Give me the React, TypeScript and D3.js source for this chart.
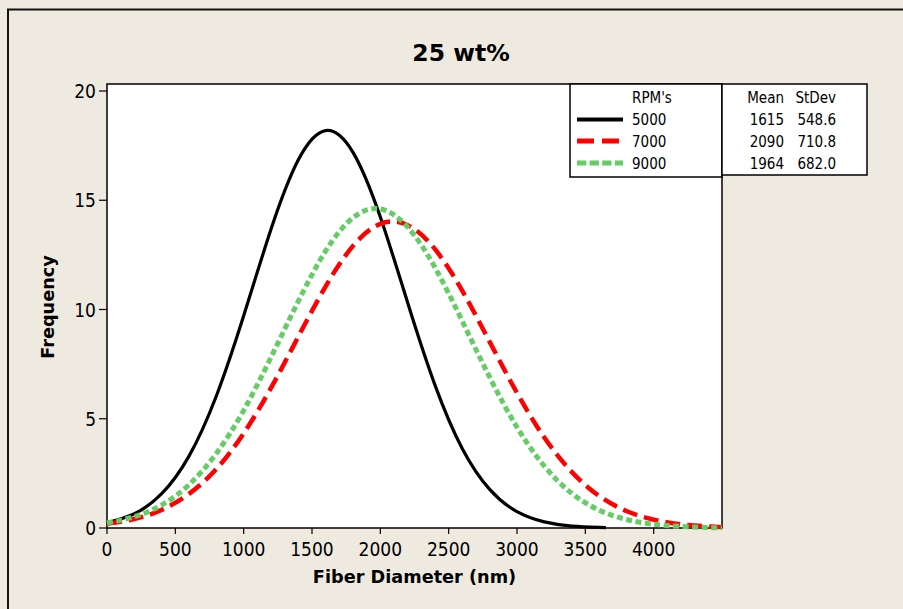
import React from "react";
import * as d3 from "d3";

// ---- Data ----
const xPositions5000 = [0, 200, 400, 600, 800, 1000, 1200, 1400, 1600, 1800, 2000, 2200, 2400, 2600, 2800, 3000, 3200, 3400, 3600, 3650];
const freq5000 = [0.24, 0.65, 1.57, 3.29, 6.04, 9.71, 13.67, 16.85, 18.19, 17.19, 14.23, 10.31, 6.54, 3.63, 1.77, 0.75, 0.28, 0.09, 0.03, 0.02];

const xPositions = [0, 200, 400, 600, 800, 1000, 1200, 1400, 1600, 1800, 2000, 2200, 2400, 2600, 2800, 3000, 3200, 3400, 3600, 3800, 4000, 4200, 4400, 4500];
const freq7000 = [0.19, 0.41, 0.83, 1.56, 2.7, 4.33, 6.41, 8.76, 11.06, 12.91, 13.92, 13.86, 12.76, 10.85, 8.52, 6.18, 4.14, 2.57, 1.47, 0.78, 0.38, 0.17, 0.07, 0.04];
const freq9000 = [0.23, 0.52, 1.05, 1.98, 3.41, 5.38, 7.81, 10.38, 12.68, 14.2, 14.6, 13.77, 11.92, 9.46, 6.9, 4.61, 2.83, 1.59, 0.82, 0.39, 0.17, 0.07, 0.02, 0.01];

const seriesNames = ["5000", "7000", "9000"];
const means = ["1615", "2090", "1964"];
const stdevs = ["548.6", "710.8", "682.0"];

const xTickValues = [0, 500, 1000, 1500, 2000, 2500, 3000, 3500, 4000];
const yTickValues = [0, 5, 10, 15, 20];

const title = "25 wt%";
const xLabel = "Fiber Diameter (nm)";
const yLabel = "Frequency";

// ---- Styles ----
const BG = "#EEEAE0";
const FONT = "'DejaVu Sans Condensed', 'DejaVu Sans', sans-serif";
const BOLD = "'DejaVu Sans', sans-serif";
const styles = [
  { stroke: "#000000", width: 3.2, dash: null as string | null },
  { stroke: "#FF0000", width: 4.5, dash: "15 7" },
  { stroke: "#66CC66", width: 5, dash: "6 3.5" },
];

export default function App() {
  const W = 903;
  const H = 609;
  const plot = { left: 107, right: 722, top: 84, bottom: 528 };

  const x = d3.scaleLinear().domain([0, 4500]).range([plot.left, plot.right]);
  const y = d3.scaleLinear().domain([0, 20]).range([plot.bottom, 91]);

  const line = d3
    .line<[number, number]>()
    .x((d) => x(d[0]))
    .y((d) => y(d[1]))
    .curve(d3.curveNatural);

  const series: [number, number][][] = [
    xPositions5000.map((v, i) => [v, freq5000[i]] as [number, number]),
    xPositions.map((v, i) => [v, freq7000[i]] as [number, number]),
    xPositions.map((v, i) => [v, freq9000[i]] as [number, number]),
  ];

  const legL = { x0: 570, x1: 722, y0: 84, y1: 177 };
  const legR = { x0: 722, x1: 867, y0: 84, y1: 175 };
  const rowY = [119.5, 141, 163];
  const rowBase = [125, 147, 168.5];

  return (
    <svg
      width={W}
      height={H}
      style={{ position: "absolute", left: 0, top: 0, display: "block" }}
    >
      <rect x={0} y={0} width={W} height={H} fill={BG} />
      {/* outer frame */}
      <path d={`M8,${H + 5} V9.5 H${W + 5}`} fill="none" stroke="#111" strokeWidth={2} />

      <text x={461} y={61} textAnchor="middle" fontFamily={BOLD} fontWeight="bold" fontSize={23.5} fill="#000">
        {title}
      </text>

      {/* plot area */}
      <rect
        x={plot.left}
        y={plot.top}
        width={plot.right - plot.left}
        height={plot.bottom - plot.top}
        fill="#FFFFFF"
        stroke="#000"
        strokeWidth={1.5}
      />

      {/* curves */}
      {series.map((s, i) => (
        <path
          key={i}
          d={line(s) || ""}
          fill="none"
          stroke={styles[i].stroke}
          strokeWidth={styles[i].width}
          strokeDasharray={styles[i].dash || undefined}
          strokeLinejoin="round"
        />
      ))}

      {/* x axis ticks */}
      {xTickValues.map((t) => (
        <g key={t}>
          <line x1={x(t)} x2={x(t)} y1={plot.bottom} y2={plot.bottom + 6} stroke="#000" strokeWidth={1.2} />
          <text x={x(t)} y={556} textAnchor="middle" fontFamily={FONT} fontSize={19} fill="#000">
            {t}
          </text>
        </g>
      ))}
      {/* y axis ticks */}
      {yTickValues.map((t) => (
        <g key={t}>
          <line x1={plot.left - 8} x2={plot.left} y1={y(t)} y2={y(t)} stroke="#000" strokeWidth={1.2} />
          <text x={96} y={y(t) + 7} textAnchor="end" fontFamily={FONT} fontSize={19} fill="#000">
            {t}
          </text>
        </g>
      ))}

      <text x={(plot.left + plot.right) / 2} y={583} textAnchor="middle" fontFamily={BOLD} fontWeight="bold" fontSize={17.7} fill="#000">
        {xLabel}
      </text>
      <text
        transform={`translate(54,307) rotate(-90)`}
        textAnchor="middle"
        fontFamily={BOLD}
        fontWeight="bold"
        fontSize={17.7}
        fill="#000"
      >
        {yLabel}
      </text>

      {/* legend */}
      <rect x={legL.x0} y={legL.y0} width={legL.x1 - legL.x0} height={legL.y1 - legL.y0} fill="#FFFFFF" stroke="#000" strokeWidth={1.5} />
      <rect x={legR.x0} y={legR.y0} width={legR.x1 - legR.x0} height={legR.y1 - legR.y0} fill="#FFFFFF" stroke="#000" strokeWidth={1.5} />
      <text x={632} y={103} fontFamily={FONT} fontSize={15} fill="#000">RPM's</text>
      <text x={784} y={103} textAnchor="end" fontFamily={FONT} fontSize={15} fill="#000">Mean</text>
      <text x={836} y={103} textAnchor="end" fontFamily={FONT} fontSize={15} fill="#000">StDev</text>
      {seriesNames.map((n, i) => (
        <g key={n}>
          <line
            x1={577}
            x2={623}
            y1={rowY[i]}
            y2={rowY[i]}
            stroke={styles[i].stroke}
            strokeWidth={i === 0 ? 4 : 5}
            strokeDasharray={i === 0 ? undefined : i === 1 ? "17 8" : "9.3 3.3"}
          />
          <text x={632} y={rowBase[i]} fontFamily={FONT} fontSize={15} fill="#000">{n}</text>
          <text x={784} y={rowBase[i]} textAnchor="end" fontFamily={FONT} fontSize={15} fill="#000">{means[i]}</text>
          <text x={836} y={rowBase[i]} textAnchor="end" fontFamily={FONT} fontSize={15} fill="#000">{stdevs[i]}</text>
        </g>
      ))}
    </svg>
  );
}
